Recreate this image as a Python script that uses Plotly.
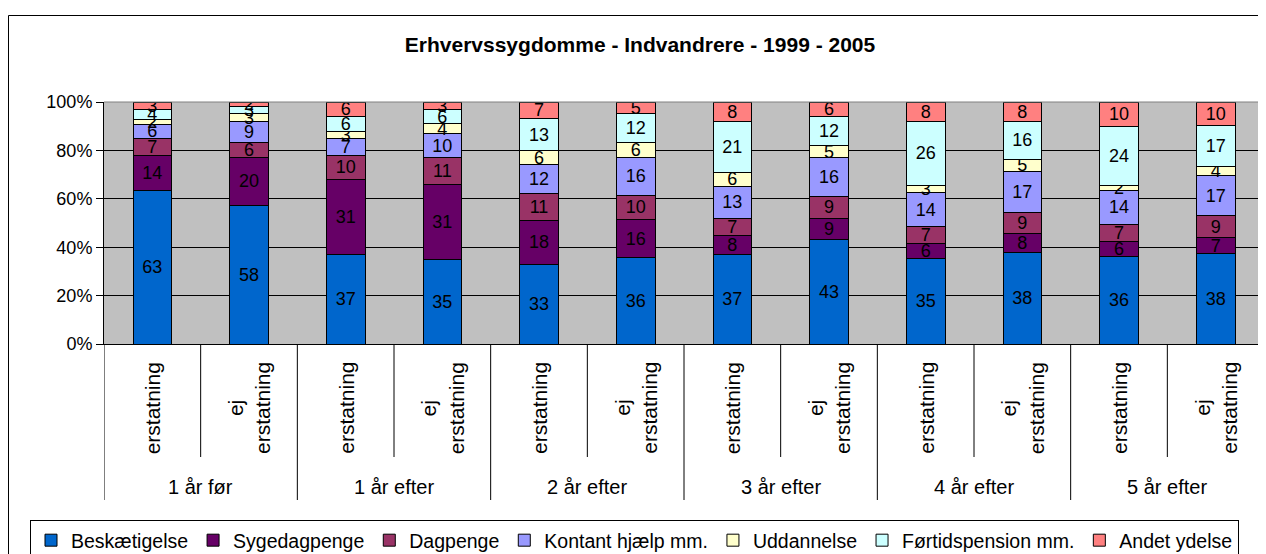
import plotly.graph_objects as go

# ---- data ----
groups = ["1 år før", "1 år efter", "2 år efter", "3 år efter", "4 år efter", "5 år efter"]
subcats = ["erstatning", "ej<br>erstatning"]
series_names = ["Beskætigelse", "Sygedagpenge", "Dagpenge", "Kontant hjælp mm.",
                "Uddannelse", "Førtidspension mm.", "Andet ydelse"]

beskaeftigelse = [63, 58, 37, 35, 33, 36, 37, 43, 35, 38, 36, 38]
sygedagpenge   = [14, 20, 31, 31, 18, 16, 8, 9, 6, 8, 6, 7]
dagpenge       = [7, 6, 10, 11, 11, 10, 7, 9, 7, 9, 7, 9]
kontant        = [6, 9, 7, 10, 12, 16, 13, 16, 14, 17, 14, 17]
uddannelse     = [2, 3, 3, 4, 6, 6, 6, 5, 3, 5, 2, 4]
foertid        = [4, 3, 6, 6, 13, 12, 21, 12, 26, 16, 24, 17]
andet          = [3, 2, 6, 3, 7, 5, 8, 6, 8, 8, 10, 10]

series_values = [beskaeftigelse, sygedagpenge, dagpenge, kontant, uddannelse, foertid, andet]
colors = ["#0066CC", "#660066", "#993366", "#9999FF", "#FFFFCC", "#CCFFFF", "#FF8080"]
ytick_vals = [0, 20, 40, 60, 80, 100]
ytick_text = ["0%", "20%", "40%", "60%", "80%", "100%"]

FONT = "Liberation Sans, Arial, sans-serif"

# the page body adds an 8px margin; geometry below is in screen pixels
OFF = 8
W, H = 1266 - OFF, 554 - OFF
PX0, PX1, PY0, PY1 = 104, 1264, 102, 344          # plot area on screen
L, R = PX0 - OFF, W - (PX1 - OFF)
T, B = PY0 - OFF, H - (PY1 - OFF)
PW, PH = PX1 - PX0, PY1 - PY0


def py(p):
    return (PY1 - p) / PH


def px(p):
    return (p - PX0) / PW


x = list(range(len(beskaeftigelse)))

fig = go.Figure()
for name, vals, col in zip(series_names, series_values, colors):
    fig.add_trace(go.Bar(
        x=x, y=vals, name=name,
        marker=dict(color=col, line=dict(color="black", width=1)),
        text=[str(v) for v in vals], textposition="inside",
        insidetextanchor="middle", textangle=0,
        textfont=dict(family=FONT, size=18, color="black"),
        width=0.4, hoverinfo="skip",
    ))

shapes = []
n = len(x)
for k in range(n + 1):
    bottom = py(500) if k % 2 == 0 else py(457)
    shapes.append(dict(type="line", xref="x", yref="paper", x0=k - 0.5, x1=k - 0.5,
                       y0=0, y1=bottom, line=dict(color="black", width=1)))
shapes.append(dict(type="line", xref="paper", yref="paper", x0=0, x1=1, y0=1, y1=1,
                   line=dict(color="#808080", width=1)))
shapes.append(dict(type="rect", xref="paper", yref="paper",
                   x0=px(8.5), x1=px(1300), y0=py(600), y1=py(15.5),
                   line=dict(color="black", width=1),
                   fillcolor="rgba(0,0,0,0)", layer="below"))

annotations = []
for i in x:
    annotations.append(dict(x=i, y=py(360), xref="x", yref="paper",
                            text=subcats[i % 2], textangle=-90, showarrow=False,
                            xanchor="center", yanchor="top", align="center",
                            font=dict(family=FONT, size=21, color="black")))
for g, name in enumerate(groups):
    annotations.append(dict(x=2 * g + 0.5, y=py(487), xref="x", yref="paper",
                            text=name, showarrow=False, xanchor="center", yanchor="middle",
                            font=dict(family=FONT, size=20, color="black")))

fig.update_layout(
    width=W, height=H,
    margin=dict(l=L, r=R, t=T, b=B, autoexpand=False),
    paper_bgcolor="white", plot_bgcolor="#C0C0C0",
    barmode="stack", barnorm="percent",
    title=dict(text="<b>Erhvervssygdomme - Indvandrere - 1999 - 2005</b>",
               x=(640 - OFF) / W, xanchor="center", y=1 - (45 - OFF) / H, yanchor="middle",
               font=dict(family=FONT, size=21, color="black")),
    xaxis=dict(range=[-0.5, n - 0.5], showticklabels=False, ticks="",
               showgrid=False, zeroline=False, showline=True, linecolor="black",
               linewidth=1, fixedrange=True),
    yaxis=dict(range=[0, 100], tickvals=ytick_vals, ticktext=ytick_text,
               ticks="outside", ticklen=7, tickcolor="black",
               showgrid=True, gridcolor="black", gridwidth=1, zeroline=False,
               showline=True, linecolor="black", linewidth=1,
               tickfont=dict(family=FONT, size=18, color="black"), fixedrange=True),
    uniformtext=dict(minsize=18, mode="show"),
    showlegend=True,
    legend=dict(orientation="h", x=px(30), xanchor="left",
                y=py(520), yanchor="top", bordercolor="black", borderwidth=1,
                font=dict(family=FONT, size=19.5, color="black"),
                itemwidth=30, traceorder="normal", bgcolor="white",
                tracegroupgap=0),
    shapes=shapes, annotations=annotations,
)

fig.write_html("out.html")
